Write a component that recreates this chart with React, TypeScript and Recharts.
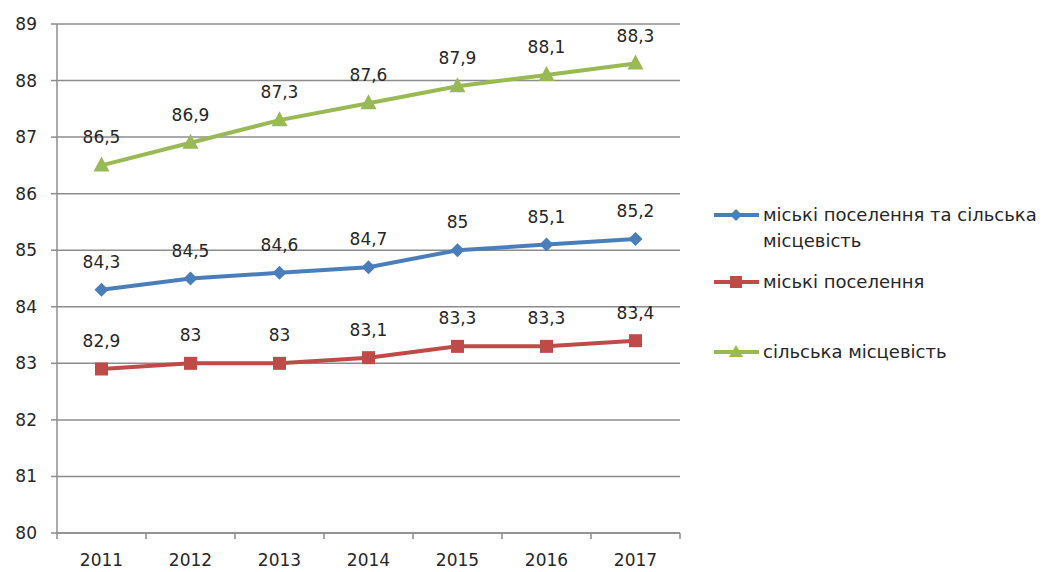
import React from 'react';
import { LineChart, Line, XAxis, YAxis, CartesianGrid, LabelList } from 'recharts';

const years = ['2011', '2012', '2013', '2014', '2015', '2016', '2017'];
const total = [84.3, 84.5, 84.6, 84.7, 85, 85.1, 85.2];
const urban = [82.9, 83, 83, 83.1, 83.3, 83.3, 83.4];
const rural = [86.5, 86.9, 87.3, 87.6, 87.9, 88.1, 88.3];
const yTicks = [80, 81, 82, 83, 84, 85, 86, 87, 88, 89];

const seriesNames = {
  total: 'міські поселення та сільська місцевість',
  urban: 'міські поселення',
  rural: 'сільська місцевість',
};

const data = years.map((y, i) => ({ year: y, total: total[i], urban: urban[i], rural: rural[i] }));

const BLUE = '#4A7EBB';
const RED = '#BE4B48';
const GREEN = '#98B954';
const GRID = '#8C8C8C';
const TXT = '#262626';
const FONT = '"DejaVu Sans", sans-serif';

const Diamond = (props: any) => {
  const { cx, cy } = props;
  if (cx == null || cy == null) return null;
  const r = 7;
  return <path d={`M${cx},${cy - r}L${cx + r},${cy}L${cx},${cy + r}L${cx - r},${cy}Z`} fill={BLUE} />;
};
const Square = (props: any) => {
  const { cx, cy } = props;
  if (cx == null || cy == null) return null;
  const r = 6.5;
  return <rect x={cx - r} y={cy - r} width={2 * r} height={2 * r} fill={RED} />;
};
const Triangle = (props: any) => {
  const { cx, cy } = props;
  if (cx == null || cy == null) return null;
  return <path d={`M${cx},${cy - 9}L${cx + 8},${cy + 6}L${cx - 8},${cy + 6}Z`} fill={GREEN} />;
};

const fmt = (v: any) => String(v).replace('.', ',');

const Lbl = (props: any) => {
  const { x, y, value } = props;
  return (
    <text x={x} y={y - 28} textAnchor="middle" dominantBaseline="central" fontSize={17} fontFamily={FONT} fill={TXT}>
      {fmt(value)}
    </text>
  );
};

const XTick = (props: any) => {
  const { x, y, payload, index, visibleTicksCount } = props;
  const half = payload && payload.offset ? payload.offset : 0;
  const isLast = index === visibleTicksCount - 1;
  return (
    <g>
      <line x1={x - half} y1={y} x2={x - half} y2={y + 6} stroke={GRID} strokeWidth={1.5} />
      {isLast && <line x1={x + half} y1={y} x2={x + half} y2={y + 6} stroke={GRID} strokeWidth={1.5} />}
      <text x={x} y={y + 27} textAnchor="middle" dominantBaseline="central" fontSize={17} fontFamily={FONT} fill={TXT}>
        {payload.value}
      </text>
    </g>
  );
};

const legendItems = [
  { name: seriesNames.total, color: BLUE, shape: 'd', lines: ['міські поселення та сільська', 'місцевість'], top: 0 },
  { name: seriesNames.urban, color: RED, shape: 's', lines: ['міські поселення'], top: 67 },
  { name: seriesNames.rural, color: GREEN, shape: 't', lines: ['сільська місцевість'], top: 137 },
];

const LegendBox = () => (
  <div style={{ position: 'absolute', left: 712, top: 205, width: 330, height: 160, fontFamily: FONT, fontSize: 18, color: TXT }}>
    {legendItems.map((it) => (
      <div key={it.name} style={{ position: 'absolute', left: 0, top: it.top, width: 330 }}>
        <svg width={48} height={20} style={{ position: 'absolute', left: 0, top: 0 }}>
          <line x1={2} y1={10} x2={47} y2={10} stroke={it.color} strokeWidth={4} />
          {it.shape === 'd' && <path d="M24,4L30,10L24,16L18,10Z" fill={it.color} />}
          {it.shape === 's' && <rect x={18} y={4} width={12} height={12} fill={it.color} />}
          {it.shape === 't' && <path d="M24,3L31,15L17,15Z" fill={it.color} />}
        </svg>
        <div style={{ position: 'absolute', left: 51, top: -3, lineHeight: '26px', whiteSpace: 'nowrap' }}>
          {it.lines.map((l) => (
            <div key={l}>{l}</div>
          ))}
        </div>
      </div>
    ))}
  </div>
);

export default function App() {
  return (
    <div style={{ position: 'absolute', left: 0, top: 0, width: 1042, height: 572, background: '#fff' }}>
      <LineChart width={1042} height={572} data={data} margin={{ top: 24, right: 362, bottom: 0, left: 0 }}>
        <CartesianGrid vertical={false} stroke={GRID} strokeWidth={1.5} />
        <XAxis
          dataKey="year"
          scale="band"
          height={39}
          axisLine={{ stroke: GRID, strokeWidth: 1.5 }}
          tickLine={false}
          tickSize={0}
          tickMargin={0}
          tick={<XTick />}
          interval={0}
        />
        <YAxis
          domain={[80, 89]}
          ticks={yTicks}
          width={57}
          axisLine={{ stroke: GRID, strokeWidth: 1.5 }}
          tickLine={{ stroke: GRID, strokeWidth: 1.5 }}
          tickSize={6}
          tickMargin={14}
          tick={{ fontSize: 17, fontFamily: FONT, fill: TXT }}
          interval={0}
        />
        <Line dataKey="total" name={seriesNames.total} stroke={BLUE} strokeWidth={4} dot={<Diamond />} isAnimationActive={false}>
          <LabelList dataKey="total" content={<Lbl />} />
        </Line>
        <Line dataKey="urban" name={seriesNames.urban} stroke={RED} strokeWidth={4} dot={<Square />} isAnimationActive={false}>
          <LabelList dataKey="urban" content={<Lbl />} />
        </Line>
        <Line dataKey="rural" name={seriesNames.rural} stroke={GREEN} strokeWidth={4} dot={<Triangle />} isAnimationActive={false}>
          <LabelList dataKey="rural" content={<Lbl />} />
        </Line>
      </LineChart>
      <LegendBox />
    </div>
  );
}
